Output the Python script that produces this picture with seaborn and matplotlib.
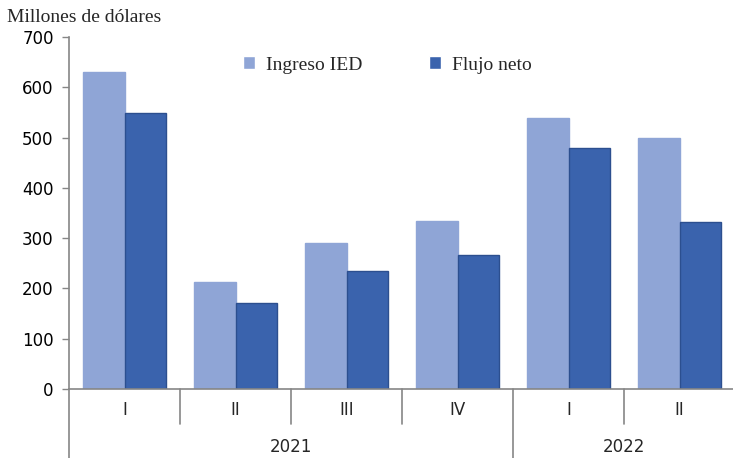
import matplotlib
matplotlib.use("Agg")
import matplotlib.pyplot as plt
import matplotlib.transforms as mtransforms
import seaborn as sns
import pandas as pd

quarters = ["I", "II", "III", "IV", "I", "II"]
years = ["2021", "2022"]
year_spans = [(0, 3), (4, 5)]
ingreso = [630, 213, 290, 334, 538, 499]
flujo = [549, 172, 234, 267, 479, 333]
series_names = ["Ingreso IED", "Flujo neto"]
colors = ["#8FA5D6", "#3A63AD"]
edge_colors = ["#8FA5D6", "#2C4F8F"]

pos = [f"p{i}" for i in range(len(quarters))]
df = pd.DataFrame({
    "pos": pos * 2,
    "value": ingreso + flujo,
    "serie": [series_names[0]] * len(pos) + [series_names[1]] * len(pos),
})

sns.set_theme(style="white")
serif = ["Liberation Serif", "DejaVu Serif"]

fig = plt.figure(figsize=(7.33, 4.58), dpi=100)
ax = fig.add_axes([69 / 733, 1 - 389 / 458, 666 / 733, 352 / 458])

sns.barplot(data=df, x="pos", y="value", hue="serie", order=pos,
            hue_order=series_names, palette=colors, width=0.75, gap=0,
            saturation=1, ax=ax, legend=True, linewidth=1)

for bars, ec in zip(ax.containers, edge_colors):
    for b in bars:
        b.set_edgecolor(ec)

ax.set_xlim(-0.5, len(pos) - 0.5)
ax.set_ylim(0, 700)
ax.set_yticks(range(0, 701, 100))
ax.tick_params(axis="y", labelsize=12, length=5, width=1, color="#868686",
               pad=6, left=True, labelcolor="black")
ax.set_xticks([])
ax.set_xlabel("")
ax.set_ylabel("")
for s in ["top", "right"]:
    ax.spines[s].set_visible(False)
for s in ["left", "bottom"]:
    ax.spines[s].set_color("#868686")
    ax.spines[s].set_linewidth(1.2)

trans = mtransforms.blended_transform_factory(ax.transData, ax.transAxes)
line_kw = dict(color="#868686", lw=1.2, clip_on=False, transform=trans)
year_bounds = [-0.5] + [e + 0.5 for _, e in year_spans]
for i in range(len(pos) + 1):
    x = i - 0.5
    low = -0.196 if x in year_bounds[:-1] else -0.0994
    if i == len(pos):
        low = -0.0994
    ax.plot([x, x], [0, low], **line_kw)

for i, q in enumerate(quarters):
    ax.text(i, -0.06, q, transform=trans, ha="center", va="center",
            fontsize=12, family="DejaVu Sans")
for y, (s, e) in zip(years, year_spans):
    ax.text((s + e) / 2, -0.165, y, transform=trans, ha="center", va="center",
            fontsize=12, family="DejaVu Sans")

fig.text(7 / 733, 1 - 18 / 458, "Millones de dólares", ha="left", va="center",
         fontsize=14, family=serif)

leg = ax.legend(ncol=2, frameon=False, loc="center",
                bbox_to_anchor=(((247 + 528) / 2 - 69) / 666, 1 - (65 - 37) / 352),
                prop={"family": serif, "size": 14}, handlelength=0.6,
                handleheight=0.6, columnspacing=3.4, handletextpad=0.6)

fig.savefig("out.png", dpi=100)
